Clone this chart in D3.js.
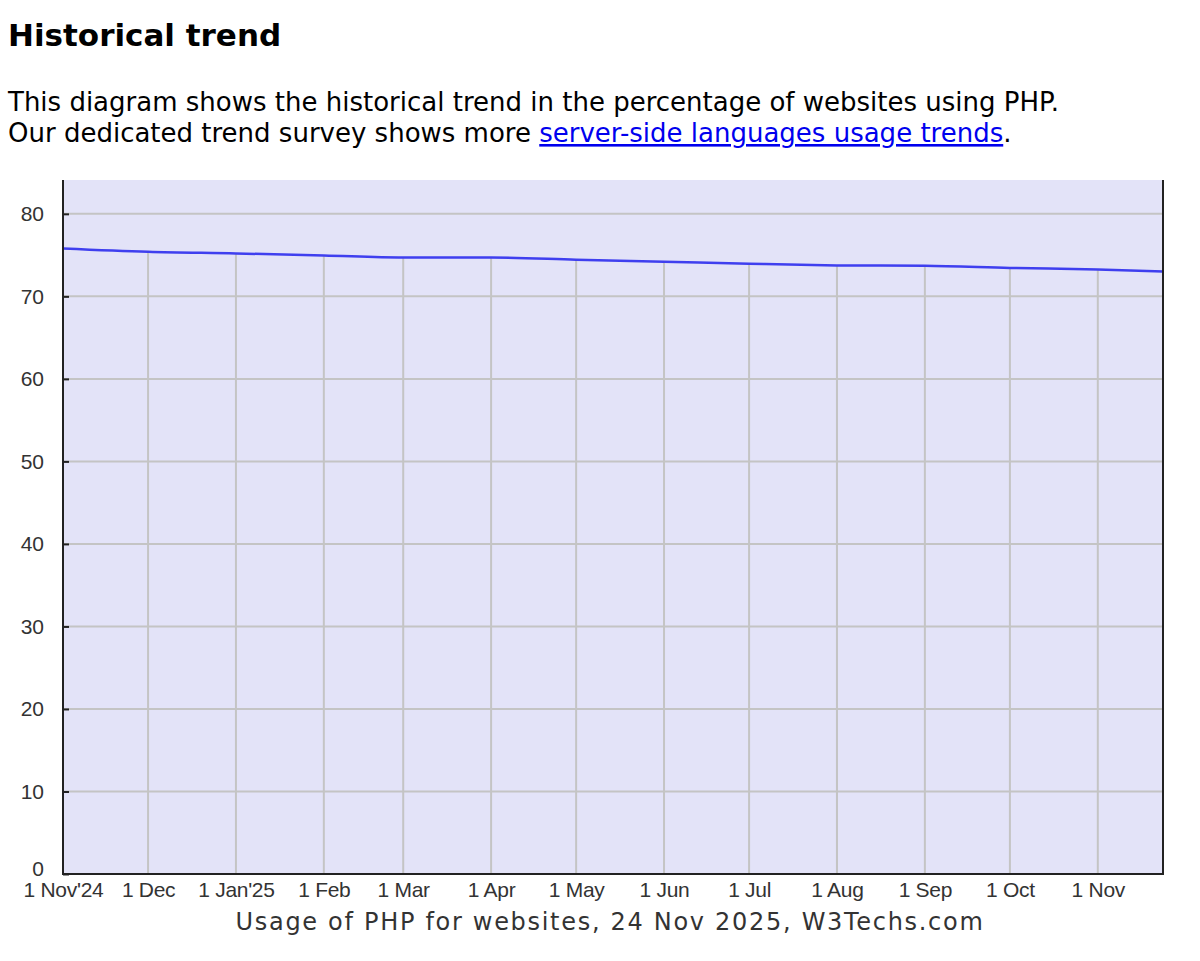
<!DOCTYPE html>
<html>
<head>
<meta charset="utf-8">
<script src="https://cdn.jsdelivr.net/npm/d3@7"></script>
<style>
  body { margin: 0; background: #fff; }
  svg { display: block; }
  .link { fill: #0000ee; text-decoration: underline; }
</style>
</head>
<body>
<svg id="chart" width="1200" height="961"></svg>
<script>
// PHP usage share, monthly readings plus the last survey day
var dates = ["2024-11-01", "2024-12-01", "2025-01-01", "2025-02-01", "2025-03-01", "2025-04-01",
             "2025-05-01", "2025-06-01", "2025-07-01", "2025-08-01", "2025-09-01", "2025-10-01",
             "2025-11-01", "2025-11-24"];
var phpShare = [75.8, 75.4, 75.2, 74.95, 74.7, 74.7, 74.45, 74.2, 73.95, 73.75, 73.7, 73.45, 73.25, 73.0];

var xTickDates = dates.slice(0, 13);
var xTickLabels = ["1 Nov'24", "1 Dec", "1 Jan'25", "1 Feb", "1 Mar", "1 Apr", "1 May",
                   "1 Jun", "1 Jul", "1 Aug", "1 Sep", "1 Oct", "1 Nov"];
var yTicks = [0, 10, 20, 30, 40, 50, 60, 70, 80];

function drawChart() {
    var parse = d3.timeParse("%Y-%m-%d");
    var data = dates.map(function(d, i) { return {date: parse(d), value: phpShare[i]}; });

    var svg = d3.select('#chart');
    var verdana = 'DejaVu Sans, Verdana, sans-serif';
    var arial = 'Liberation Sans, Arial, sans-serif';

    // header text
    svg.append('text')
        .attr('x', 8).attr('y', 46)
        .attr('font-family', verdana)
        .attr('font-weight', 'bold')
        .attr('font-size', 31)
        .text('Historical trend');

    svg.append('text')
        .attr('x', 8).attr('y', 111)
        .attr('font-family', verdana)
        .attr('font-size', 26)
        .text('This diagram shows the historical trend in the percentage of websites using PHP.');

    var line2 = svg.append('text')
        .attr('x', 8).attr('y', 142)
        .attr('font-family', verdana)
        .attr('font-size', 26)
        .style('white-space', 'pre');
    line2.append('tspan').text('Our dedicated trend survey shows more ');
    line2.append('a').attr('href', '#')
        .append('tspan').attr('class', 'link')
        .text('server-side languages usage trends');
    line2.append('tspan').text('.');

    // plot area
    var left = 63, right = 1163, plotTop = 180, bottom = 874;

    var x = d3.scaleTime()
        .domain([data[0].date, data[data.length - 1].date])
        .range([left, right]);
    var y = d3.scaleLinear()
        .domain([0, 84.1])
        .range([bottom, plotTop]);

    svg.append('rect')
        .attr('x', left).attr('y', plotTop)
        .attr('width', right - left).attr('height', bottom - plotTop)
        .attr('fill', '#e3e3f8');

    // grid
    svg.append('g').selectAll('line')
        .data(yTicks.slice(1))
        .enter().append('line')
        .attr('x1', left).attr('x2', right)
        .attr('y1', function(d) { return y(d); })
        .attr('y2', function(d) { return y(d); })
        .attr('stroke', '#c4c4c4').attr('stroke-width', 2);

    // vertical grid only runs below the trend line
    svg.append('g').selectAll('line')
        .data(data.slice(1, xTickDates.length))
        .enter().append('line')
        .attr('x1', function(d) { return x(d.date); })
        .attr('x2', function(d) { return x(d.date); })
        .attr('y1', function(d) { return y(d.value); })
        .attr('y2', bottom)
        .attr('stroke', '#c4c4c4').attr('stroke-width', 2);

    // trend line
    var lineGen = d3.line()
        .x(function(d) { return x(d.date); })
        .y(function(d) { return y(d.value); })
        .curve(d3.curveMonotoneX);

    svg.append('path')
        .datum(data)
        .attr('d', lineGen)
        .attr('fill', 'none')
        .attr('stroke', '#3f3fef')
        .attr('stroke-width', 2.5);

    // axes
    var yAxis = d3.axisLeft(y).tickValues(yTicks).tickSize(10).tickPadding(9);
    var gy = svg.append('g')
        .attr('transform', 'translate(' + left + ',0)')
        .call(yAxis);
    gy.select('.domain').remove();
    gy.selectAll('.tick line').attr('stroke', '#222').attr('stroke-width', 2).attr('x2', 6);
    gy.selectAll('.tick text')
        .attr('font-family', arial)
        .attr('font-size', 21)
        .attr('fill', '#333')
        .attr('dy', function(d) { return d === 0 ? '0.05em' : '0.32em'; });

    var xAxis = d3.axisBottom(x)
        .tickValues(xTickDates.map(parse))
        .tickFormat(function(d, i) { return xTickLabels[i]; })
        .tickSize(0).tickPadding(8);
    var gx = svg.append('g')
        .attr('transform', 'translate(0,' + bottom + ')')
        .call(xAxis);
    gx.select('.domain').remove();
    gx.selectAll('.tick text')
        .attr('font-family', arial)
        .attr('font-size', 21)
        .attr('letter-spacing', '-0.3px')
        .attr('fill', '#333');

    // frame: left, bottom, right
    svg.append('path')
        .attr('d', 'M' + left + ',' + plotTop + 'V' + bottom + 'H' + right + 'V' + plotTop)
        .attr('fill', 'none')
        .attr('stroke', '#222')
        .attr('stroke-width', 2);

    svg.append('text')
        .attr('x', 610).attr('y', 930)
        .attr('text-anchor', 'middle')
        .attr('font-family', verdana)
        .attr('font-size', 24)
        .attr('letter-spacing', '1.7px')
        .attr('fill', '#333')
        .text('Usage of PHP for websites, 24 Nov 2025, W3Techs.com');
}

drawChart();
</script>
</body>
</html>
